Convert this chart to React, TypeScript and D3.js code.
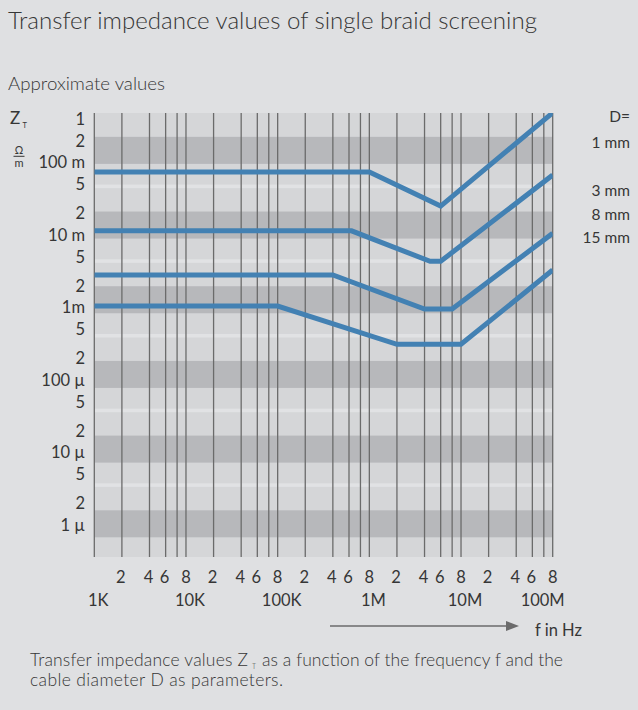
import React from "react";
import * as d3 from "d3";

// ---- data ----
const seriesNames = ["1 mm", "3 mm", "8 mm", "15 mm"];
const freq1 = [1e3, 1e6, 6e6, 1e8];
const z1 = [0.0777, 0.0777, 0.0272, 0.483];
const freq2 = [1e3, 6.4e5, 4.6e6, 6e6, 1e8];
const z2 = [0.0127, 0.0127, 0.00496, 0.00496, 0.0708];
const freq3 = [1e3, 4e5, 4e6, 8e6, 1e8];
const z3 = [0.00325, 0.00325, 0.00114, 0.00114, 0.01175];
const freq4 = [1e3, 1e5, 2e6, 1e7, 1e8];
const z4 = [0.00125, 0.00125, 0.000384, 0.000384, 0.00379];

const decadeValues = [1e3, 1e4, 1e5, 1e6, 1e7, 1e8];
const decadeLabels = ["1K", "10K", "100K", "1M", "10M", "100M"];
const minorMultipliers = [2, 4, 6, 8];
const minorLabels = ["2", "4", "6", "8"];

const yTickValues = [0.4, 0.2, 0.1, 0.05, 0.02, 0.01, 0.005, 0.002, 0.001, 5e-4, 2e-4, 1e-4, 5e-5, 2e-5, 1e-5, 5e-6, 2e-6, 1e-6];
const yTickLabels = ["1", "2", "100 m", "5", "2", "10 m", "5", "2", "1m", "5", "2", "100 µ", "5", "2", "10 µ", "5", "2", "1 µ"];
const bandDecades = [0.1, 0.01, 0.001, 1e-4, 1e-5, 1e-6];
const stripeValues = [0.05, 0.005, 5e-4, 5e-5, 5e-6];

const FONT = "Lato, 'Noto Sans', sans-serif";
const TEXT = "#363636";

export default function App() {
  const left = 94.3, right = 552.7, top = 113, bottom = 557;
  const x = d3.scaleLog().domain([1e3, 1e8]).range([left, right]);
  const y = d3.scaleLog().domain([0.48, 5.45e-7]).range([top, bottom]);
  const yLabel = d3.scaleLog().domain([0.1, 1e-6]).range([162.5, 525]);

  const series = [
    { f: freq1, z: z1 },
    { f: freq2, z: z2 },
    { f: freq3, z: z3 },
    { f: freq4, z: z4 },
  ];
  const line = d3
    .line<[number, number]>()
    .x((d) => x(d[0]))
    .y((d) => y(d[1]));

  const gridValues: number[] = [];
  decadeValues.slice(0, 5).forEach((d) => {
    gridValues.push(d);
    minorMultipliers.forEach((m) => gridValues.push(d * m));
  });
  gridValues.push(1e8);

  const stripeHalf = 1.056;

  return (
    <svg
      width={638}
      height={710}
      style={{ position: "absolute", left: 0, top: 0 }}
      fontFamily={FONT}
    >
      <defs>
        <clipPath id="plotClip">
          <rect x={left} y={top} width={right - left} height={bottom - top} />
        </clipPath>
      </defs>
      <rect x={0} y={0} width={638} height={710} fill="#dfe0e2" />
      <text x={8} y={29} fontSize={23.5} fill={TEXT} fontWeight={300} textLength={529} lengthAdjust="spacingAndGlyphs">
        Transfer impedance values of single braid screening
      </text>
      <text x={8} y={90} fontSize={17} fill={TEXT} fontWeight={300} textLength={157} lengthAdjust="spacingAndGlyphs">
        Approximate values
      </text>

      {/* plot background */}
      <rect x={left} y={top} width={right - left} height={bottom - top} fill="#d5d6d8" />
      {bandDecades.map((d, i) => (
        <rect
          key={"b" + i}
          x={left}
          y={y(d * 2.3)}
          width={right - left}
          height={y(d) - y(d * 2.3)}
          fill="#b7b8bb"
        />
      ))}
      {stripeValues.map((v, i) => (
        <rect
          key={"s" + i}
          x={left}
          y={y(v * stripeHalf)}
          width={right - left}
          height={y(v / stripeHalf) - y(v * stripeHalf)}
          fill="#e1e2e4"
        />
      ))}
      {gridValues.map((v, i) => (
        <line
          key={"g" + i}
          x1={x(v)}
          x2={x(v)}
          y1={top}
          y2={bottom}
          stroke="#6b6b6b"
          strokeWidth={1.3}
        />
      ))}

      <g clipPath="url(#plotClip)">
        {series.map((s, i) => (
          <path
            key={"l" + i}
            d={line(s.f.map((f, j) => [f, s.z[j]] as [number, number])) || ""}
            fill="none"
            stroke="#4381b3"
            strokeWidth={5}
            strokeLinejoin="miter"
          />
        ))}
      </g>

      {/* y labels */}
      {yTickValues.map((v, i) => (
        <text
          key={"yt" + i}
          x={85}
          y={yLabel(v)}
          dy="0.36em"
          textAnchor="end"
          fontSize={16.5}
          fill={TEXT}
        >
          {yTickLabels[i]}
        </text>
      ))}
      <text x={10} y={124} fontSize={17} fill={TEXT}>
        Z
      </text>
      <text x={22.5} y={128} fontSize={7.5} fill={TEXT}>T</text>
      <text x={19} y={154} fontSize={10.5} fill={TEXT} textAnchor="middle">Ω</text>
      <line x1={13.5} x2={24.5} y1={156.3} y2={156.3} stroke={TEXT} strokeWidth={1} />
      <text x={19} y={166.5} fontSize={11} fill={TEXT} textAnchor="middle">m</text>

      {/* right annotations */}
      <text x={630} y={116} dy="0.36em" textAnchor="end" fontSize={15.5} fill={TEXT}>D=</text>
      {[142.7, 190, 214.3, 237.3].map((yy, i) => (
        <text key={"a" + i} x={630} y={yy} dy="0.36em" textAnchor="end" fontSize={15.5} fill={TEXT}>
          {seriesNames[i]}
        </text>
      ))}

      {/* x labels */}
      {decadeValues.slice(0, 5).map((d, k) =>
        minorMultipliers.map((m, j) => (
          <text
            key={"xm" + k + "-" + j}
            x={m === 8 ? x(d * 10) : x(d * m) - 1}
            y={577}
            dy="0.36em"
            textAnchor="middle"
            fontSize={16.5}
            fill={TEXT}
          >
            {minorLabels[j]}
          </text>
        ))
      )}
      {decadeValues.map((d, i) => (
        <text
          key={"xd" + i}
          x={i === decadeValues.length - 1 ? x(d) + 12 : x(d) + 4}
          y={600}
          dy="0.36em"
          textAnchor={i === decadeValues.length - 1 ? "end" : "middle"}
          fontSize={16.5}
          fill={TEXT}
        >
          {decadeLabels[i]}
        </text>
      ))}

      {/* arrow */}
      <line x1={330} x2={508} y1={626} y2={626} stroke="#6b6b6b" strokeWidth={1.5} />
      <path d="M506,621 L519,626 L506,631 Z" fill="#6b6b6b" />
      <text x={535} y={630} dy="0.36em" fontSize={16.5} fill={TEXT}>f in Hz</text>

      {/* caption */}
      <text x={30} y={666} fontSize={17.5} fill={TEXT} fontWeight={300} textLength={218} lengthAdjust="spacing">
        Transfer impedance values Z
      </text>
      <text x={252} y={669} fontSize={7} fill={TEXT} fontWeight={300}>T</text>
      <text x={262} y={666} fontSize={17.5} fill={TEXT} fontWeight={300} textLength={301} lengthAdjust="spacing">
        as a function of the frequency f and the
      </text>
      <text x={30} y={686} fontSize={17.5} fill={TEXT} fontWeight={300} textLength={253} lengthAdjust="spacing">
        cable diameter D as parameters.
      </text>
    </svg>
  );
}
